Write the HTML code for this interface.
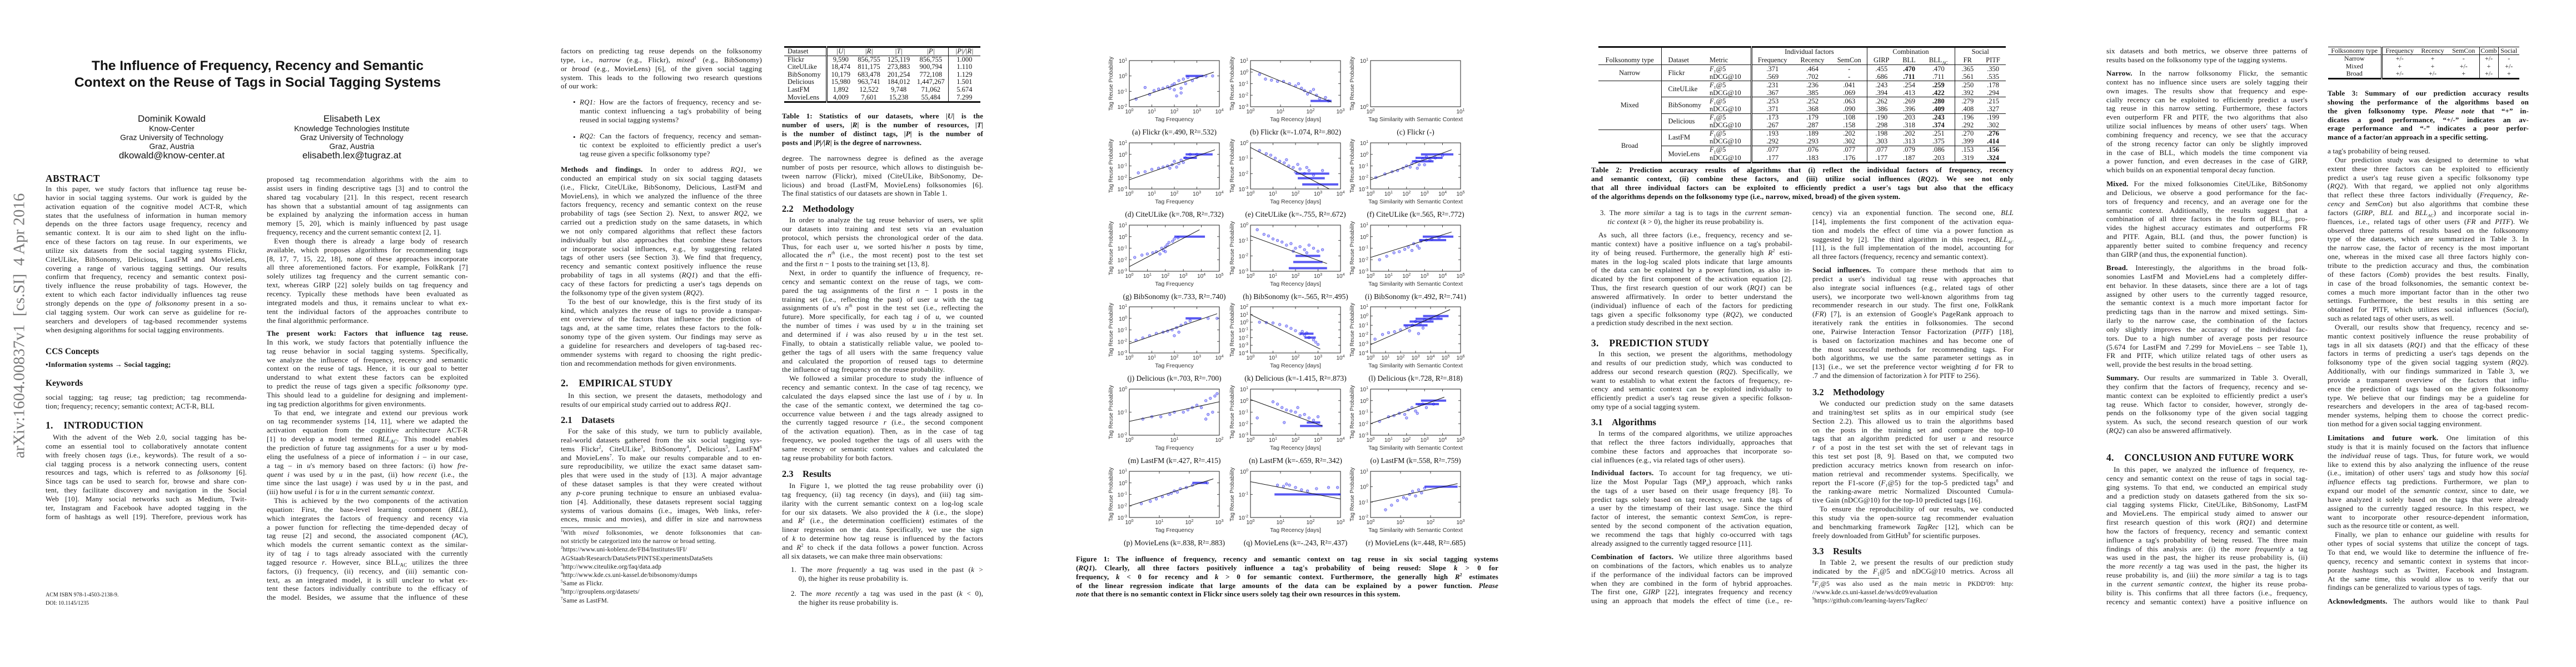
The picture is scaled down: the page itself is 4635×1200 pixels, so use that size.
<!DOCTYPE html>
<html><head><meta charset="utf-8"><title>Paper pages</title>
<style>
html,body{margin:0;padding:0;background:#fff}
body{width:4635px;height:1200px;position:relative;overflow:hidden;color:#141414}
sub,sup{line-height:0}
.pg{position:absolute;top:0;width:927px;height:1200px;background:#fff}
.b{position:absolute;width:362px;font:13px/15.85px "Liberation Serif",serif;letter-spacing:0.15px}
.b>div{height:15.85px;overflow:hidden;text-align:justify;text-align-last:justify;white-space:normal}
.b>div.e{text-align-last:left}
.b>div.i{text-indent:13px}
.b.fn{font-size:11.5px;line-height:15.2px}
.b.fn>div{height:15.2px}
.h1{position:absolute;font:bold 17.5px "Liberation Serif",serif;white-space:nowrap;letter-spacing:0.3px}
.h2{position:absolute;font:bold 16.5px "Liberation Serif",serif;white-space:nowrap}
.cap{font-weight:bold}
table{border-collapse:collapse;font:12.5px/13.6px "Liberation Serif",serif}
td,th{padding:0;font-weight:normal;white-space:nowrap}
#t2 tr{height:14.1px}
#t2 td{line-height:13px;height:14.1px;overflow:hidden}
#t2 tr.hd{height:15px}
#t2 tr.hd td{height:15px}
.sans{font-family:"Liberation Sans",sans-serif}
</style></head><body>

<!-- ================= PAGE 1 ================= -->
<div class="pg" style="left:0">
  <div style="position:absolute;left:35px;top:586px;transform:translate(-50%,-50%) rotate(-90deg);font:29px 'Liberation Serif',serif;color:#7a7a7a;white-space:nowrap">arXiv:1604.00837v1&nbsp; [cs.SI]&nbsp; 4 Apr 2016</div>
  <div class="sans" style="position:absolute;left:60px;width:807px;top:104px;text-align:center;font-weight:bold;font-size:24.5px;line-height:29.5px">The Influence of Frequency, Recency and Semantic<br>Context on the Reuse of Tags in Social Tagging Systems</div>
  <div class="sans" style="position:absolute;left:159px;width:300px;top:205px;text-align:center;font-size:14px;line-height:16px">
    <div style="font-size:17px;line-height:18px">Dominik Kowald</div><div>Know-Center</div><div>Graz University of Technology</div><div>Graz, Austria</div><div style="font-size:17px;line-height:17px">dkowald@know-center.at</div></div>
  <div class="sans" style="position:absolute;left:483px;width:300px;top:205px;text-align:center;font-size:14px;line-height:16px">
    <div style="font-size:17px;line-height:18px">Elisabeth Lex</div><div>Knowledge Technologies Institute</div><div>Graz University of Technology</div><div>Graz, Austria</div><div style="font-size:17px;line-height:17px">elisabeth.lex@tugraz.at</div></div>

  <div class="h1" style="left:82px;top:311px">ABSTRACT</div>
  <div class="b" style="left:82px;top:332px">
<div>In this paper, we study factors that influence tag reuse be-</div>
<div>havior in social tagging systems. Our work is guided by the</div>
<div>activation equation of the cognitive model ACT-R, which</div>
<div>states that the usefulness of information in human memory</div>
<div>depends on the three factors usage frequency, recency and</div>
<div>semantic context. It is our aim to shed light on the influ-</div>
<div>ence of these factors on tag reuse. In our experiments, we</div>
<div>utilize six datasets from the social tagging systems Flickr,</div>
<div>CiteULike, BibSonomy, Delicious, LastFM and MovieLens,</div>
<div>covering a range of various tagging settings. Our results</div>
<div>confirm that frequency, recency and semantic context posi-</div>
<div>tively influence the reuse probability of tags. However, the</div>
<div>extent to which each factor individually influences tag reuse</div>
<div>strongly depends on the <i>type of folksonomy</i> present in a so-</div>
<div>cial tagging system. Our work can serve as guideline for re-</div>
<div>searchers and developers of tag-based recommender systems</div>
<div class="e">when designing algorithms for social tagging environments.</div>
  </div>
  <div class="h2" style="left:82px;top:624px;font-size:15.5px">CCS Concepts</div>
  <div class="b" style="left:82px;top:648px"><div class="e"><b>•Information systems → Social tagging;</b></div></div>
  <div class="h2" style="left:82px;top:681px;font-size:15.5px">Keywords</div>
  <div class="b" style="left:82px;top:707px">
<div>social tagging; tag reuse; tag prediction; tag recommenda-</div>
<div class="e">tion; frequency; recency; semantic context; ACT-R, BLL</div></div>
  <div class="h1" style="left:82px;top:755px">1.&nbsp;&nbsp;&nbsp;&nbsp;INTRODUCTION</div>
  <div class="b" style="left:82px;top:779px">
<div class="i">With the advent of the Web 2.0, social tagging has be-</div>
<div>come an essential tool to collaboratively annotate content</div>
<div>with freely chosen <i>tags</i> (i.e., keywords). The result of a so-</div>
<div>cial tagging process is a network connecting users, content</div>
<div>resources and tags, which is referred to as <i>folksonomy</i> [6].</div>
<div>Since tags can be used to search for, browse and share con-</div>
<div>tent, they facilitate discovery and navigation in the Social</div>
<div>Web [10]. Many social networks such as Medium, Twit-</div>
<div>ter, Instagram and Facebook have adopted tagging in the</div>
<div>form of hashtags as well [19]. Therefore, previous work has</div></div>
  <div style="position:absolute;left:82px;top:1063px;font:10px/15px 'Liberation Serif',serif">ACM ISBN 978-1-4503-2138-9.<br>DOI: 10.1145/1235</div>

  <div class="b" style="left:480px;top:315px">
<div>proposed tag recommendation algorithms with the aim to</div>
<div>assist users in finding descriptive tags [3] and to control the</div>
<div>shared tag vocabulary [21]. In this respect, recent research</div>
<div>has shown that a substantial amount of tag assignments can</div>
<div>be explained by analyzing the information access in human</div>
<div>memory [5, 20], which is mainly influenced by past usage</div>
<div class="e">frequency, recency and the current semantic context [2, 1].</div>
<div class="i">Even though there is already a large body of research</div>
<div>available, which proposes algorithms for recommending tags</div>
<div>[8, 17, 7, 15, 22, 18], none of these approaches incorporate</div>
<div>all three aforementioned factors. For example, FolkRank [7]</div>
<div>solely utilizes tag frequency and the current semantic con-</div>
<div>text, whereas GIRP [22] solely builds on tag frequency and</div>
<div>recency. Typically these methods have been evaluated as</div>
<div>integrated models and thus, it remains unclear to what ex-</div>
<div>tent the individual factors of the approaches contribute to</div>
<div class="e">the final algorithmic performance.</div></div>
  <div class="b" style="left:480px;top:592px">
<div><b>The present work: Factors that influence tag reuse.</b></div>
<div>In this work, we study factors that potentially influence the</div>
<div>tag reuse behavior in social tagging systems. Specifically,</div>
<div>we analyze the influence of frequency, recency and semantic</div>
<div>context on the reuse of tags. Hence, it is our goal to better</div>
<div>understand to what extent these factors can be exploited</div>
<div>to predict the reuse of tags given a specific <i>folksonomy type</i>.</div>
<div>This should lead to a guideline for designing and implement-</div>
<div class="e">ing tag prediction algorithms for given environments.</div>
<div class="i">To that end, we integrate and extend our previous work</div>
<div>on tag recommender systems [14, 11], where we adapted the</div>
<div>activation equation from the cognitive architecture ACT-R</div>
<div>[1] to develop a model termed <i>BLL<sub style="font-size:9px">AC</sub></i>. This model enables</div>
<div>the prediction of future tag assignments for a user <i>u</i> by mod-</div>
<div>eling the usefulness of a piece of information <i>i</i> – in our case,</div>
<div>a tag – in <i>u</i>'s memory based on three factors: (i) how <i>fre-</i></div>
<div><i>quent</i> <i>i</i> was used by <i>u</i> in the past, (ii) how <i>recent</i> (i.e., the</div>
<div>time since the last usage) <i>i</i> was used by <i>u</i> in the past, and</div>
<div class="e">(iii) how useful <i>i</i> is for <i>u</i> in the current <i>semantic context</i>.</div>
<div class="i">This is achieved by the two components of the activation</div>
<div>equation: First, the base-level learning component (<i>BLL</i>),</div>
<div>which integrates the factors of frequency and recency via</div>
<div>a power function for reflecting the time-depended decay of</div>
<div>tag reuse [2] and second, the associated component (<i>AC</i>),</div>
<div>which models the current semantic context as the similar-</div>
<div>ity of tag <i>i</i> to tags already associated with the currently</div>
<div>tagged resource <i>r</i>. However, since BLL<sub style="font-size:9px">AC</sub> utilizes the three</div>
<div>factors, (i) frequency, (ii) recency, and (iii) semantic con-</div>
<div>text, as an integrated model, it is still unclear to what ex-</div>
<div>tent these factors individually contribute to the efficacy of</div>
<div>the model. Besides, we assume that the influence of these</div></div>
</div>

<!-- ================= PAGE 2 ================= -->
<div class="pg" style="left:927px">
  <div class="b" style="left:82px;top:84px">
<div>factors on predicting tag reuse depends on the folksonomy</div>
<div>type, i.e., <i>narrow</i> (e.g., Flickr), <i>mixed</i><sup style="font-size:8px">1</sup> (e.g., BibSonomy)</div>
<div>or <i>broad</i> (e.g., MovieLens) [6], of the given social tagging</div>
<div>system. This leads to the following two research questions</div>
<div class="e">of our work:</div></div>
  <div style="position:absolute;left:104px;top:176px;font:13px/15.85px 'Liberation Serif',serif">•<br><br><br><br>•</div>
  <div class="b" style="left:116px;top:176px;width:327px">
<div><i>RQ1:</i> How are the factors of frequency, recency and se-</div>
<div>mantic context influencing a tag's probability of being</div>
<div class="e">reused in social tagging systems?</div></div>
  <div class="b" style="left:116px;top:237px;width:327px">
<div><i>RQ2:</i> Can the factors of frequency, recency and seman-</div>
<div>tic context be exploited to efficiently predict a user's</div>
<div class="e">tag reuse given a specific folksonomy type?</div></div>
  <div class="b" style="left:82px;top:297px">
<div><b>Methods and findings.</b> In order to address <i>RQ1</i>, we</div>
<div>conducted an empirical study on six social tagging datasets</div>
<div>(i.e., Flickr, CiteULike, BibSonomy, Delicious, LastFM and</div>
<div>MovieLens), in which we analyzed the influence of the three</div>
<div>factors frequency, recency and semantic context on the reuse</div>
<div>probability of tags (see Section 2). Next, to answer <i>RQ2</i>, we</div>
<div>carried out a prediction study on the same datasets, in which</div>
<div>we not only compared algorithms that reflect these factors</div>
<div>individually but also approaches that combine these factors</div>
<div>or incorporate social influences, e.g., by suggesting related</div>
<div>tags of other users (see Section 3). We find that frequency,</div>
<div>recency and semantic context positively influence the reuse</div>
<div>probability of tags in all systems (<i>RQ1</i>) and that the effi-</div>
<div>cacy of these factors for predicting a user's tags depends on</div>
<div class="e">the folksonomy type of the given system (<i>RQ2</i>).</div>
<div class="i">To the best of our knowledge, this is the first study of its</div>
<div>kind, which analyzes the reuse of tags to provide a transpar-</div>
<div>ent overview of the factors that influence the prediction of</div>
<div>tags and, at the same time, relates these factors to the folk-</div>
<div>sonomy type of the given system. Our findings may serve as</div>
<div>a guideline for researchers and developers of tag-based rec-</div>
<div>ommender systems with regard to choosing the right predic-</div>
<div class="e">tion and recommendation methods for given environments.</div></div>
  <div class="h1" style="left:82px;top:679px">2.&nbsp;&nbsp;&nbsp;&nbsp;EMPIRICAL STUDY</div>
  <div class="b" style="left:82px;top:704px">
<div class="i">In this section, we present the datasets, methodology and</div>
<div class="e">results of our empirical study carried out to address <i>RQ1</i>.</div></div>
  <div class="h2" style="left:82px;top:746px">2.1&nbsp;&nbsp;&nbsp;&nbsp;Datasets</div>
  <div class="b" style="left:82px;top:768px">
<div class="i">For the sake of this study, we turn to publicly available,</div>
<div>real-world datasets gathered from the six social tagging sys-</div>
<div>tems Flickr<sup style="font-size:8px">2</sup>, CiteULike<sup style="font-size:8px">3</sup>, BibSonomy<sup style="font-size:8px">4</sup>, Delicious<sup style="font-size:8px">5</sup>, LastFM<sup style="font-size:8px">6</sup></div>
<div>and MovieLens<sup style="font-size:8px">7</sup>. To make our results comparable and to en-</div>
<div>sure reproducibility, we utilize the exact same dataset sam-</div>
<div>ples that were used in the study of [13]. A major advantage</div>
<div>of these dataset samples is that they were created without</div>
<div>any <i>p</i>-core pruning technique to ensure an unbiased evalua-</div>
<div>tion [4]. Additionally, these datasets represent social tagging</div>
<div>systems of various domains (i.e., images, Web links, refer-</div>
<div>ences, music and movies), and differ in size and narrowness</div></div>
  <div style="position:absolute;left:82px;top:949px;width:120px;border-top:1px solid #333"></div>
  <div class="b fn" style="left:82px;top:952px">
<div><sup style="font-size:7px">1</sup>With <i>mixed</i> folksonomies, we denote folksonomies that can-</div>
<div class="e">not strictly be categorized into the narrow or broad setting.</div>
<div class="e"><sup style="font-size:7px">2</sup>https://www.uni-koblenz.de/FB4/Institutes/IFI/</div>
<div class="e">AGStaab/Research/DataSets/PINTSExperimentsDataSets</div>
<div class="e"><sup style="font-size:7px">3</sup>http://www.citeulike.org/faq/data.adp</div>
<div class="e"><sup style="font-size:7px">4</sup>http://www.kde.cs.uni-kassel.de/bibsonomy/dumps</div>
<div class="e"><sup style="font-size:7px">5</sup>Same as Flickr.</div>
<div class="e"><sup style="font-size:7px">6</sup>http://grouplens.org/datasets/</div>
<div class="e"><sup style="font-size:7px">7</sup>Same as LastFM.</div></div>

  <table style="position:absolute;left:484px;top:83px;width:353px;border-top:3px solid #111;border-bottom:3px solid #111">
    <colgroup><col style="width:76px"><col style="width:50px"><col style="width:53px"><col style="width:54px"><col style="width:62px"><col style="width:58px"></colgroup>
    <tr style="border-bottom:1px solid #111;height:15px"><td style="padding-left:6px;border-right:3px double #111">Dataset</td><td align="center"><i>|U|</i></td><td align="center"><i>|R|</i></td><td align="center"><i>|T|</i></td><td align="center" style="border-right:1px solid #111"><i>|P|</i></td><td align="center"><i>|P|/|R|</i></td></tr>
    <tr><td style="padding-left:6px;border-right:3px double #111">Flickr</td><td align="center">9,590</td><td align="center">856,755</td><td align="center">125,119</td><td align="center" style="border-right:1px solid #111">856,755</td><td align="center">1.000</td></tr>
    <tr><td style="padding-left:6px;border-right:3px double #111">CiteULike</td><td align="center">18,474</td><td align="center">811,175</td><td align="center">273,883</td><td align="center" style="border-right:1px solid #111">900,794</td><td align="center">1.110</td></tr>
    <tr><td style="padding-left:6px;border-right:3px double #111">BibSonomy</td><td align="center">10,179</td><td align="center">683,478</td><td align="center">201,254</td><td align="center" style="border-right:1px solid #111">772,108</td><td align="center">1.129</td></tr>
    <tr><td style="padding-left:6px;border-right:3px double #111">Delicious</td><td align="center">15,980</td><td align="center">963,741</td><td align="center">184,012</td><td align="center" style="border-right:1px solid #111">1,447,267</td><td align="center">1.501</td></tr>
    <tr><td style="padding-left:6px;border-right:3px double #111">LastFM</td><td align="center">1,892</td><td align="center">12,522</td><td align="center">9,748</td><td align="center" style="border-right:1px solid #111">71,062</td><td align="center">5.674</td></tr>
    <tr><td style="padding-left:6px;border-right:3px double #111">MovieLens</td><td align="center">4,009</td><td align="center">7,601</td><td align="center">15,238</td><td align="center" style="border-right:1px solid #111">55,484</td><td align="center">7.299</td></tr>
  </table>
  <div class="b cap" style="left:480px;top:201px">
<div>Table 1: Statistics of our datasets, where <i>|U|</i> is the</div>
<div>number of users, <i>|R|</i> is the number of resources, <i>|T|</i></div>
<div>is the number of distinct tags, <i>|P|</i> is the number of</div>
<div class="e">posts and <i>|P|/|R|</i> is the degree of narrowness.</div></div>
  <div class="b" style="left:480px;top:277px">
<div>degree. The narrowness degree is defined as the average</div>
<div>number of posts per resource, which allows to distinguish be-</div>
<div>tween narrow (Flickr), mixed (CiteULike, BibSonomy, De-</div>
<div>licious) and broad (LastFM, MovieLens) folksonomies [6].</div>
<div class="e">The final statistics of our datasets are shown in Table 1.</div></div>
  <div class="h2" style="left:480px;top:366px">2.2&nbsp;&nbsp;&nbsp;&nbsp;Methodology</div>
  <div class="b" style="left:480px;top:388px">
<div class="i">In order to analyze the tag reuse behavior of users, we split</div>
<div>our datasets into training and test sets via an evaluation</div>
<div>protocol, which persists the chronological order of the data.</div>
<div>Thus, for each user <i>u</i>, we sorted his/her <i>n</i> posts by time,</div>
<div>allocated the <i>n<sup style="font-size:8px">th</sup></i> (i.e., the most recent) post to the test set</div>
<div class="e">and the first <i>n</i> − 1 posts to the training set [13, 8].</div>
<div class="i">Next, in order to quantify the influence of frequency, re-</div>
<div>cency and semantic context on the reuse of tags, we com-</div>
<div>pared the tag assignments of the first <i>n</i> − 1 posts in the</div>
<div>training set (i.e., reflecting the past) of user <i>u</i> with the tag</div>
<div>assignments of <i>u</i>'s <i>n<sup style="font-size:8px">th</sup></i> post in the test set (i.e., reflecting the</div>
<div>future). More specifically, for each tag <i>i</i> of <i>u</i>, we counted</div>
<div>the number of times <i>i</i> was used by <i>u</i> in the training set</div>
<div>and determined if <i>i</i> was also reused by <i>u</i> in the test set.</div>
<div>Finally, to obtain a statistically reliable value, we pooled to-</div>
<div>gether the tags of all users with the same frequency value</div>
<div>and calculated the proportion of reused tags to determine</div>
<div class="e">the influence of tag frequency on the reuse probability.</div>
<div class="i">We followed a similar procedure to study the influence of</div>
<div>recency and semantic context. In the case of tag recency, we</div>
<div>calculated the days elapsed since the last use of <i>i</i> by <i>u</i>. In</div>
<div>the case of the semantic context, we determined the tag co-</div>
<div>occurrence value between <i>i</i> and the tags already assigned to</div>
<div>the currently tagged resource <i>r</i> (i.e., the second component</div>
<div>of the activation equation). Then, as in the case of tag</div>
<div>frequency, we pooled together the tags of all users with the</div>
<div>same recency or semantic context values and calculated the</div>
<div class="e">tag reuse probability for both factors.</div></div>
  <div class="h2" style="left:480px;top:843px">2.3&nbsp;&nbsp;&nbsp;&nbsp;Results</div>
  <div class="b" style="left:480px;top:866px">
<div class="i">In Figure 1, we plotted the tag reuse probability over (i)</div>
<div>tag frequency, (ii) tag recency (in days), and (iii) tag sim-</div>
<div>ilarity with the current semantic context on a log-log scale</div>
<div>for our six datasets. We also provided the <i>k</i> (i.e., the slope)</div>
<div>and <i>R</i><sup style="font-size:8px">2</sup> (i.e., the determination coefficient) estimates of the</div>
<div>linear regression on the data. Specifically, we use the sign</div>
<div>of <i>k</i> to determine how tag reuse is influenced by the factors</div>
<div>and <i>R</i><sup style="font-size:8px">2</sup> to check if the data follows a power function. Across</div>
<div class="e">all six datasets, we can make three main observations:</div></div>
  <div class="b" style="left:496px;top:1017px;width:346px">
<div>1. The <i>more frequently</i> a tag was used in the past (<i>k</i> &gt;</div>
<div class="e">&nbsp;&nbsp;&nbsp;&nbsp;0), the higher its reuse probability is.</div></div>
  <div class="b" style="left:496px;top:1060px;width:346px">
<div>2. The <i>more recently</i> a tag was used in the past (<i>k</i> &lt; 0),</div>
<div class="e">&nbsp;&nbsp;&nbsp;&nbsp;the higher its reuse probability is.</div></div>
</div>

<!-- ================= PAGE 3 ================= -->
<div class="pg" style="left:1854px">
  <svg id="fig1" width="927" height="1000" style="position:absolute;left:0;top:0" xmlns="http://www.w3.org/2000/svg"></svg>
  <div class="b cap" style="left:82px;top:998px;width:760px">
<div>Figure 1: The influence of frequency, recency and semantic context on tag reuse in six social tagging systems</div>
<div>(<i>RQ1</i>). Clearly, all three factors positively influence a tag's probability of being reused: Slope <i>k</i> &gt; 0 for</div>
<div>frequency, <i>k</i> &lt; 0 for recency and <i>k</i> &gt; 0 for semantic context. Furthermore, the generally high <i>R</i><sup style="font-size:8px">2</sup> estimates</div>
<div>of the linear regression indicate that large amounts of the data can be explained by a power function. <i>Please</i></div>
<div class="e"><i>note</i> that there is no semantic context in Flickr since users solely tag their own resources in this system.</div></div>
</div>

<!-- ================= PAGE 4 ================= -->
<div class="pg" style="left:2781px">
  <table id="t2" style="position:absolute;left:95px;top:83px;width:733px;table-layout:fixed;border-top:3px solid #111;border-bottom:3px solid #111;font-size:12.5px;line-height:13px">
    <colgroup><col style="width:113px"><col style="width:87px"><col style="width:75px"><col style="width:75px"><col style="width:70px"><col style="width:63px"><col style="width:52px"><col style="width:48px"><col style="width:58px"><col style="width:46px"><col style="width:46px"></colgroup>
    <tr class="hd"><td></td><td style="border-left:1px solid #111"></td><td style="border-right:3px double #111"></td><td colspan="3" align="center" style="border-right:1px solid #111">Individual factors</td><td colspan="3" align="center" style="border-right:1px solid #111">Combination</td><td colspan="2" align="center">Social</td></tr>
    <tr class="hd" style="border-bottom:1px solid #111"><td align="center">Folksonomy type</td><td style="border-left:1px solid #111;padding-left:12px">Dataset</td><td style="border-right:3px double #111">Metric</td><td align="center">Frequency</td><td align="center">Recency</td><td align="center" style="border-right:1px solid #111">SemCon</td><td align="center">GIRP</td><td align="center">BLL</td><td align="center" style="border-right:1px solid #111">BLL<sub style="font-size:8px"><i>AC</i></sub></td><td align="center">FR</td><td align="center">PITF</td></tr>
    <tbody id="t2body"></tbody>
  </table>
  <div class="b cap" style="left:82px;top:298px;width:760px">
<div>Table 2: Prediction accuracy results of algorithms that (i) reflect the individual factors of frequency, recency</div>
<div>and semantic context, (ii) combine these factors, and (iii) utilize social influences (<i>RQ2</i>). We see not only</div>
<div>that all three individual factors can be exploited to efficiently predict a user's tags but also that the efficacy</div>
<div class="e">of the algorithms depends on the folksonomy type (i.e., narrow, mixed, broad) of the given system.</div></div>
  <div class="b" style="left:98px;top:375px;width:345px">
<div>3. The <i>more similar</i> a tag is to tags in the <i>current seman-</i></div>
<div class="e">&nbsp;&nbsp;&nbsp;&nbsp;<i>tic context</i> (<i>k</i> &gt; 0), the higher its reuse probability is.</div></div>
  <div class="b" style="left:82px;top:415px">
<div class="i">As such, all three factors (i.e., frequency, recency and se-</div>
<div>mantic context) have a positive influence on a tag's probabil-</div>
<div>ity of being reused. Furthermore, the generally high <i>R</i><sup style="font-size:8px">2</sup> esti-</div>
<div>mates in the log-log scaled plots indicate that large amounts</div>
<div>of the data can be explained by a power function, as also in-</div>
<div>dicated by the first component of the activation equation [2].</div>
<div>Thus, the first research question of our work (<i>RQ1</i>) can be</div>
<div>answered affirmatively. In order to better understand the</div>
<div>(individual) influence of each of the factors for predicting</div>
<div>tags given a specific folksonomy type (<i>RQ2</i>), we conducted</div>
<div class="e">a prediction study described in the next section.</div></div>
  <div class="h1" style="left:82px;top:607px">3.&nbsp;&nbsp;&nbsp;&nbsp;PREDICTION STUDY</div>
  <div class="b" style="left:82px;top:629px">
<div class="i">In this section, we present the algorithms, methodology</div>
<div>and results of our prediction study, which was conducted to</div>
<div>address our second research question (<i>RQ2</i>). Specifically, we</div>
<div>want to establish to what extent the factors of frequency, re-</div>
<div>cency and semantic context can be exploited individually to</div>
<div>efficiently predict a user's tag reuse given a specific folkson-</div>
<div class="e">omy type of a social tagging system.</div></div>
  <div class="h2" style="left:82px;top:750px">3.1&nbsp;&nbsp;&nbsp;&nbsp;Algorithms</div>
  <div class="b" style="left:82px;top:772px">
<div class="i">In terms of the compared algorithms, we utilize approaches</div>
<div>that reflect the three factors individually, approaches that</div>
<div>combine these factors and approaches that incorporate so-</div>
<div class="e">cial influences (e.g., via related tags of other users).</div></div>
  <div class="b" style="left:82px;top:843px">
<div><b>Individual factors.</b> To account for tag frequency, we uti-</div>
<div>lize the Most Popular Tags (MP<sub style="font-size:8px"><i>u</i></sub>) approach, which ranks</div>
<div>the tags of a user based on their usage frequency [8]. To</div>
<div>predict tags solely based on tag recency, we rank the tags of</div>
<div>a user by the timestamp of their last usage. Since the third</div>
<div>factor of interest, the semantic context <i>SemCon</i>, is repre-</div>
<div>sented by the second component of the activation equation,</div>
<div>we recommend the tags that highly co-occurred with tags</div>
<div class="e">already assigned to the currently tagged resource [11].</div></div>
  <div class="b" style="left:82px;top:994px">
<div><b>Combination of factors.</b> We utilize three algorithms based</div>
<div>on combinations of the factors, which enables us to analyze</div>
<div>if the performance of the individual factors can be improved</div>
<div>when they are combined in the form of hybrid approaches.</div>
<div>The first one, <i>GIRP</i> [22], integrates frequency and recency</div>
<div>using an approach that models the effect of time (i.e., re-</div></div>

  <div class="b" style="left:480px;top:375px">
<div>cency) via an exponential function. The second one, <i>BLL</i></div>
<div>[14], implements the first component of the activation equa-</div>
<div>tion and models the effect of time via a power function as</div>
<div>suggested by [2]. The third algorithm in this respect, <i>BLL<sub style="font-size:8px">AC</sub></i></div>
<div>[11], is the full implementation of the model, accounting for</div>
<div class="e">all three factors (frequency, recency and semantic context).</div></div>
  <div class="b" style="left:480px;top:478px">
<div><b>Social influences.</b> To compare these methods that aim to</div>
<div>predict a user's individual tag reuse with approaches that</div>
<div>also integrate social influences (e.g., related tags of other</div>
<div>users), we incorporate two well-known algorithms from tag</div>
<div>recommender research in our study. The first one, FolkRank</div>
<div>(<i>FR</i>) [7], is an extension of Google's PageRank approach to</div>
<div>iteratively rank the entities in folksonomies. The second</div>
<div>one, Pairwise Interaction Tensor Factorization (<i>PITF</i>) [18],</div>
<div>is based on factorization machines and has become one of</div>
<div>the most successful methods for recommending tags. For</div>
<div>both algorithms, we use the same parameter settings as in</div>
<div>[13] (i.e., we set the preference vector weighting <i>d</i> for FR to</div>
<div class="e">.7 and the dimension of factorization λ for PITF to 256).</div></div>
  <div class="h2" style="left:480px;top:696px">3.2&nbsp;&nbsp;&nbsp;&nbsp;Methodology</div>
  <div class="b" style="left:480px;top:718px">
<div class="i">We conducted our prediction study on the same datasets</div>
<div>and training/test set splits as in our empirical study (see</div>
<div>Section 2.2). This allowed us to train the algorithms based</div>
<div>on the posts in the training set and compare the top-10</div>
<div>tags that an algorithm predicted for user <i>u</i> and resource</div>
<div><i>r</i> of a post in the test set with the set of relevant tags in</div>
<div>this test set post [8, 9]. Based on that, we computed two</div>
<div>prediction accuracy metrics known from research on infor-</div>
<div>mation retrieval and recommender systems. Specifically, we</div>
<div>report the F1-score (<i>F</i><sub style="font-size:8px">1</sub>@5) for the top-5 predicted tags<sup style="font-size:8px">8</sup> and</div>
<div>the ranking-aware metric Normalized Discounted Cumula-</div>
<div class="e">tive Gain (nDCG@10) for the top-10 predicted tags [16].</div>
<div class="i">To ensure the reproducibility of our results, we conducted</div>
<div>this study via the open-source tag recommender evaluation</div>
<div>and benchmarking framework <i>TagRec</i> [12], which can be</div>
<div class="e">freely downloaded from GitHub<sup style="font-size:8px">9</sup> for scientific purposes.</div></div>
  <div class="h2" style="left:480px;top:982px">3.3&nbsp;&nbsp;&nbsp;&nbsp;Results</div>
  <div class="b" style="left:480px;top:1004px">
<div class="i">In Table 2, we present the results of our prediction study</div>
<div>indicated by the <i>F</i><sub style="font-size:8px">1</sub>@5 and nDCG@10 metrics. Across all</div></div>
  <div style="position:absolute;left:480px;top:1040px;width:120px;border-top:1px solid #333"></div>
  <div class="b fn" style="left:480px;top:1044px;line-height:14.5px">
<div><sup style="font-size:7px">8</sup><i>F</i><sub style="font-size:7px">1</sub>@5 was also used as the main metric in PKDD'09: http:</div>
<div class="e">//www.kde.cs.uni-kassel.de/ws/dc09/evaluation</div>
<div class="e"><sup style="font-size:7px">9</sup>https://github.com/learning-layers/TagRec/</div></div>
</div>

<!-- ================= PAGE 5 ================= -->
<div class="pg" style="left:3708px">
  <div class="b" style="left:82px;top:84px">
<div>six datasets and both metrics, we observe three patterns of</div>
<div class="e">results based on the folksonomy type of the tagging systems.</div></div>
  <div class="b" style="left:82px;top:124px">
<div><b>Narrow.</b> In the narrow folksonomy Flickr, the semantic</div>
<div>context has no influence since users are solely tagging their</div>
<div>own images. The results show that frequency and espe-</div>
<div>cially recency can be exploited to efficiently predict a user's</div>
<div>tag reuse in this narrow setting. Furthermore, these factors</div>
<div>even outperform FR and PITF, the two algorithms that also</div>
<div>utilize social influences by means of other users' tags. When</div>
<div>combining frequency and recency, we see that the accuracy</div>
<div>of the strong recency factor can only be slightly improved</div>
<div>in the case of BLL, which models the time component via</div>
<div>a power function, and even decreases in the case of GIRP,</div>
<div class="e">which builds on an exponential temporal decay function.</div></div>
  <div class="b" style="left:82px;top:323px">
<div><b>Mixed.</b> For the mixed folksonomies CiteULike, BibSonomy</div>
<div>and Delicious, we observe a good performance for the fac-</div>
<div>tors of frequency and recency, and an average one for the</div>
<div>semantic context. Additionally, the results suggest that a</div>
<div>combination of all three factors in the form of BLL<sub style="font-size:8px"><i>AC</i></sub> pro-</div>
<div>vides the highest accuracy estimates and outperforms FR</div>
<div>and PITF. Again, BLL (and thus, the power function) is</div>
<div>apparently better suited to combine frequency and recency</div>
<div class="e">than GIRP (and thus, the exponential function).</div></div>
  <div class="b" style="left:82px;top:474px">
<div><b>Broad.</b> Interestingly, the algorithms in the broad folk-</div>
<div>sonomies LastFM and MovieLens had a completely differ-</div>
<div>ent behavior. In these datasets, since there are a lot of tags</div>
<div>assigned by other users to the currently tagged resource,</div>
<div>the semantic context is a much more important factor for</div>
<div>predicting tags than in the narrow and mixed settings. Sim-</div>
<div>ilarly to the narrow case, the combination of the factors</div>
<div>only slightly improves the accuracy of the individual fac-</div>
<div>tors. Due to a high number of average posts per resource</div>
<div>(5.674 for LastFM and 7.299 for MovieLens – see Table 1),</div>
<div>FR and PITF, which utilize related tags of other users as</div>
<div class="e">well, provide the best results in the broad setting.</div></div>
  <div class="b" style="left:82px;top:672px">
<div><b>Summary.</b> Our results are summarized in Table 3. Overall,</div>
<div>they confirm that the factors of frequency, recency and se-</div>
<div>mantic context can be exploited to efficiently predict a user's</div>
<div>tag reuse. Which factor to consider, however, strongly de-</div>
<div>pends on the folksonomy type of the given social tagging</div>
<div>system. As such, the second research question of our work</div>
<div class="e">(<i>RQ2</i>) can also be answered affirmatively.</div></div>
  <div class="h1" style="left:82px;top:813px">4.&nbsp;&nbsp;&nbsp;&nbsp;CONCLUSION AND FUTURE WORK</div>
  <div class="b" style="left:82px;top:837px">
<div class="i">In this paper, we analyzed the influence of frequency, re-</div>
<div>cency and semantic context on the reuse of tags in social tag-</div>
<div>ging systems. To that end, we conducted an empirical study</div>
<div>and a prediction study on datasets gathered from the six so-</div>
<div>cial tagging systems Flickr, CiteULike, BibSonomy, LastFM</div>
<div>and MovieLens. The empirical study aimed to answer our</div>
<div>first research question of this work (<i>RQ1</i>) and determine</div>
<div>how the factors of frequency, recency and semantic context</div>
<div>influence a tag's probability of being reused. The three main</div>
<div>findings of this analysis are: (i) the <i>more frequently</i> a tag</div>
<div>was used in the past, the higher its reuse probability is, (ii)</div>
<div>the <i>more recently</i> a tag was used in the past, the higher its</div>
<div>reuse probability is, and (iii) the <i>more similar</i> a tag is to tags</div>
<div>in the <i>current semantic context</i>, the higher its reuse proba-</div>
<div>bility is. This confirms that all three factors (i.e., frequency,</div>
<div>recency and semantic context) have a positive influence on</div></div>

  <table style="position:absolute;left:481px;top:84px;width:344px;border-top:1px solid #111;border-bottom:3px solid #111;font-size:12px;line-height:13.4px">
    <colgroup><col style="width:96px"><col style="width:64px"><col style="width:56px"><col style="width:56px"><col style="width:34px"><col style="width:38px"></colgroup>
    <tr style="border-bottom:1px solid #111"><td align="center" style="border-right:3px double #111">Folksonomy type</td><td align="center">Frequency</td><td align="center">Recency</td><td align="center" style="border-right:1px solid #111">SemCon</td><td align="center" style="border-right:1px solid #111">Comb</td><td align="center">Social</td></tr>
    <tr><td align="center" style="border-right:3px double #111">Narrow</td><td align="center">+/-</td><td align="center">+</td><td align="center" style="border-right:1px solid #111">-</td><td align="center" style="border-right:1px solid #111">+/-</td><td align="center">-</td></tr>
    <tr><td align="center" style="border-right:3px double #111">Mixed</td><td align="center">+</td><td align="center">+</td><td align="center" style="border-right:1px solid #111">+/-</td><td align="center" style="border-right:1px solid #111">+</td><td align="center">+/-</td></tr>
    <tr><td align="center" style="border-right:3px double #111">Broad</td><td align="center">+/-</td><td align="center">+/-</td><td align="center" style="border-right:1px solid #111">+</td><td align="center" style="border-right:1px solid #111">+/-</td><td align="center">+</td></tr>
  </table>
  <div class="b cap" style="left:480px;top:160px">
<div>Table 3: Summary of our prediction accuracy results</div>
<div>showing the performance of the algorithms based on</div>
<div>the given folksonomy type. <i>Please note</i> that “+” in-</div>
<div>dicates a good performance, “+/-” indicates an av-</div>
<div>erage performance and “-” indicates a poor perfor-</div>
<div class="e">mance of a factor/an approach in a specific setting.</div></div>
  <div class="b" style="left:480px;top:264px">
<div class="e">a tag's probability of being reused.</div>
<div class="i">Our prediction study was designed to determine to what</div>
<div>extent these three factors can be exploited to efficiently</div>
<div>predict a user's tag reuse given a specific folksonomy type</div>
<div>(<i>RQ2</i>). With that regard, we applied not only algorithms</div>
<div>that reflect these three factors individually (<i>Frequency</i>, <i>Re-</i></div>
<div><i>cency</i> and <i>SemCon</i>) but also algorithms that combine these</div>
<div>factors (<i>GIRP</i>, <i>BLL</i> and <i>BLL<sub style="font-size:8px">AC</sub></i>) and incorporate social in-</div>
<div>fluences, i.e., related tags of other users (<i>FR</i> and <i>PITF</i>). We</div>
<div>observed three patterns of results based on the folksonomy</div>
<div>type of the datasets, which are summarized in Table 3. In</div>
<div>the narrow case, the factor of recency is the most important</div>
<div>one, whereas in the mixed case all three factors highly con-</div>
<div>tribute to the prediction accuracy and thus, the combination</div>
<div>of these factors (<i>Comb</i>) provides the best results. Finally,</div>
<div>in case of the broad folksonomies, the semantic context be-</div>
<div>comes a much more important factor than in the other two</div>
<div>settings. Furthermore, the best results in this setting are</div>
<div>obtained for PITF, which utilizes social influences (<i>Social</i>),</div>
<div class="e">such as related tags of other users, as well.</div>
<div class="i">Overall, our results show that frequency, recency and se-</div>
<div>mantic context positively influence the reuse probability of</div>
<div>tags in all six datasets (<i>RQ1</i>) and that the efficacy of these</div>
<div>factors in terms of predicting a user's tags depends on the</div>
<div>folksonomy type of the given social tagging system (<i>RQ2</i>).</div>
<div>Additionally, with our findings summarized in Table 3, we</div>
<div>provide a transparent overview of the factors that influ-</div>
<div>ence the prediction of tags based on the given folksonomy</div>
<div>type. We believe that our findings may be a guideline for</div>
<div>researchers and developers in the area of tag-based recom-</div>
<div>mender systems, helping them to choose the correct predic-</div>
<div class="e">tion method for a given social tagging environment.</div></div>
  <div class="b" style="left:480px;top:780px">
<div><b>Limitations and future work.</b> One limitation of this</div>
<div>study is that it is mainly focused on the factors that influence</div>
<div>the <i>individual</i> reuse of tags. Thus, for future work, we would</div>
<div>like to extend this by also analyzing the influence of the reuse</div>
<div>(i.e., imitation) of other users' tags and study how this <i>social</i></div>
<div><i>influence</i> effects tag predictions. Furthermore, we plan to</div>
<div>expand our model of the <i>semantic context</i>, since to date, we</div>
<div>have analyzed it solely based on the tags that were already</div>
<div>assigned to the currently tagged resource. In this respect, we</div>
<div>want to incorporate other resource-dependent information,</div>
<div class="e">such as the resource title or content, as well.</div>
<div class="i">Finally, we plan to enhance our guideline with results for</div>
<div>other types of social systems that utilize the concept of tags.</div>
<div>To that end, we would like to determine the influence of fre-</div>
<div>quency, recency and semantic context in systems that incor-</div>
<div>porate <i>hashtags</i> such as Twitter, Facebook and Instagram.</div>
<div>At the same time, this would allow us to verify that our</div>
<div class="e">findings can be generalized to various types of tags.</div></div>
  <div class="b" style="left:480px;top:1074px">
<div><b>Acknowledgments.</b> The authors would like to thank Paul</div></div>
</div>

<script>
// ---------- Table 2 data ----------
const t2Types = ["Narrow","Mixed","Broad"];
const t2TypeSpans = [2,6,4];
const t2Datasets = ["Flickr","CiteULike","BibSonomy","Delicious","LastFM","MovieLens"];
const t2Metrics = ["F1@5","nDCG@10"];
const t2Values = [
 [".371",".464","-",".455",".470",".470",".365",".350"],
 [".569",".702","-",".686",".711",".711",".561",".535"],
 [".231",".236",".041",".243",".254",".259",".250",".178"],
 [".367",".385",".069",".394",".413",".422",".392",".294"],
 [".253",".252",".063",".262",".269",".280",".279",".215"],
 [".371",".368",".090",".386",".396",".409",".408",".327"],
 [".173",".179",".108",".190",".203",".243",".196",".199"],
 [".267",".287",".158",".298",".318",".374",".292",".302"],
 [".193",".189",".202",".198",".202",".251",".270",".276"],
 [".292",".293",".302",".303",".313",".375",".399",".414"],
 [".077",".076",".077",".077",".079",".086",".153",".156"],
 [".177",".183",".176",".177",".187",".203",".319",".324"]
];
const t2Bold = [4,4,5,5,5,5,5,5,7,7,7,7];

(function(){
  const body = document.getElementById('t2body');
  let typeIdx = 0, typeRowStart = 0;
  t2Values.forEach((vals, r) => {
    const tr = document.createElement('tr');
    
    
    if (r % 2 === 0 && r > 0) tr.style.borderTop = '1px solid #111';
    if (r === typeRowStart) {
      const td = document.createElement('td');
      
      
      td.rowSpan = t2TypeSpans[typeIdx];
      td.align = 'center';
      td.style.height = 'auto';
      td.textContent = t2Types[typeIdx];
      tr.appendChild(td);
    }
    if (r % 2 === 0) {
      const td = document.createElement('td');
      
      
      td.rowSpan = 2;
      td.style.height = 'auto';
      td.textContent = t2Datasets[r/2];
      td.style.borderLeft = '1px solid #111';
      td.style.paddingLeft = '12px';
      tr.appendChild(td);
    }
    const mt = document.createElement('td');
    
    
    mt.style.borderRight = '3px double #111';
    mt.innerHTML = r % 2 === 0 ? '<i>F</i><sub style="font-size:8px">1</sub>@5' : 'nDCG@10';
    tr.appendChild(mt);
    vals.forEach((v, c) => {
      const td = document.createElement('td');
      
      
      td.align = 'center';
      td.textContent = v;
      if (c === 2 || c === 5) td.style.borderRight = '1px solid #111';
      if (t2Bold[r] === c) td.style.fontWeight = 'bold';
      tr.appendChild(td);
    });
    body.appendChild(tr);
    if (r === typeRowStart + t2TypeSpans[typeIdx] - 1) { typeRowStart = r + 1; typeIdx++; }
  });
})();

// ---------- Figure 1 data (log10 space) ----------
const plotCaptions = ["(a) Flickr (k=.490, R²=.532)","(b) Flickr (k=-1.074, R²=.802)","(c) Flickr (-)",
 "(d) CiteULike (k=.708, R²=.732)","(e) CiteULike (k=-.755, R²=.672)","(f) CiteULike (k=.565, R²=.772)",
 "(g) BibSonomy (k=.733, R²=.740)","(h) BibSonomy (k=-.565, R²=.495)","(i) BibSonomy (k=.492, R²=.741)",
 "(j) Delicious (k=.703, R²=.700)","(k) Delicious (k=-1.415, R²=.873)","(l) Delicious (k=.728, R²=.818)",
 "(m) LastFM (k=.427, R²=.415)","(n) LastFM (k=-.659, R²=.342)","(o) LastFM (k=.558, R²=.759)",
 "(p) MovieLens (k=.838, R²=.883)","(q) MovieLens (k=-.243, R²=.437)","(r) MovieLens (k=.448, R²=.685)"];
const xAxisLabels = ["Tag Frequency","Tag Recency [days]","Tag Similarity with Semantic Context"];
const xRanges = [[0,4],[0,3],[0,1],[0,4],[0,4],[0,5],[0,5],[0,4],[0,5],[0,4],[0,4],[0,6],[0,2],[0,4],[0,5],[0,3],[0,3],[0,3]];
const yRanges = [[-2,1],[-3,1],[0,1],[-3,1],[-3,0],[-3,1],[-3,1],[-3,0],[-3,1],[-3,1],[-4,2],[-4,1],[-2,0],[-3,1],[-3,1],[-3,1],[-2,0],[-2,1]];
const fitLines = [[0,-1.6,3.75,0.25],[0,0.3,2.7,-2.6],null,[0,-2.2,3.8,0.4],[0,-0.3,3.5,-3],[0,-2.2,4.5,0.4],
 [0,-2.6,3.9,0.6],[0,-0.7,3.4,-2.5],[0,-1.8,4.5,0.4],[0,-2.2,3.9,0.4],[0,1,3.1,-3.5],[0,-3.1,5.3,0.7],
 [0,-1.4,2,-0.55],[0,0.1,3.2,-2.2],[0,-2,4.1,0.3],[0,-2,2.8,0.35],[0,-0.45,3,-1.2],[0,-1,2.9,0.2]];
const scatterPoints = [
 [[0.3,-1.5],[0.7,-0.75],[0.9,-1.2],[1.1,-0.95],[1.3,-0.85],[1.5,-0.8],[1.7,-0.7],[1.9,-0.6],[2.0,-0.5],[2.1,-1.3],[2.2,-0.3],[2.3,-0.8],[2.4,-0.2],[2.5,-0.5],[2.6,-0.1],[2.8,-0.3],[3.0,-0.1],[3.4,0],[3.7,0],[2.0,-0.9],[2.3,-1.1],[1.8,-0.8]],
 [[0.3,-0.2],[0.5,-0.6],[0.7,-0.7],[0.9,-0.8],[1.1,-0.8],[1.3,-1.0],[1.5,-1.2],[1.7,-1.4],[1.8,-1.6],[1.9,-1.9],[2.0,-1.7],[2.2,-2.0],[2.3,-2.3],[2.5,-2.2],[2.6,-2.5],[1.6,-1.0],[2.1,-1.5]],
 [],
 [[0.4,-1.6],[0.7,-1.5],[1.0,-1.3],[1.3,-1.2],[1.5,-1.1],[1.7,-1.0],[1.9,-0.9],[2.0,-0.6],[2.1,-1.1],[2.3,-0.5],[2.5,-0.3],[2.7,0],[3.0,0],[1.8,-1.2],[2.2,-0.8],[2.4,-0.7]],
 [[0.4,-0.5],[0.7,-0.7],[0.9,-0.8],[1.1,-1.0],[1.3,-1.2],[1.5,-1.3],[1.7,-1.5],[1.9,-1.6],[2.0,-1.9],[2.2,-1.7],[2.4,-2.0],[2.6,-1.8],[2.8,-2.1],[3.2,-1.8],[1.6,-1.1],[2.1,-1.4],[2.5,-1.6]],
 [[0.3,-2.0],[0.8,-1.7],[1.2,-1.5],[1.5,-1.4],[1.8,-1.2],[2.0,-1.0],[2.3,-0.8],[2.5,-0.6],[2.7,-0.9],[2.9,-0.4],[3.1,-0.2],[3.3,-0.5],[3.6,-0.3],[4.0,-0.1],[2.6,-1.2],[3.0,-0.9],[2.2,-1.1]],
 [[0.3,-1.8],[0.7,-1.6],[1.0,-1.5],[1.3,-1.4],[1.5,-1.3],[1.7,-1.5],[1.9,-1.2],[2.0,-0.9],[2.1,-0.7],[2.2,-0.5],[2.4,-0.4],[2.5,-0.2],[2.7,-0.1],[1.8,-1.0],[2.0,-1.3]],
 [[0.3,-0.3],[0.6,-0.6],[0.8,-0.7],[1.0,-0.9],[1.2,-1.0],[1.4,-1.1],[1.6,-1.3],[1.8,-1.2],[2.0,-1.5],[2.2,-1.4],[2.4,-1.6],[2.6,-1.3],[2.8,-1.5],[3.0,-1.7],[3.2,-1.6],[1.9,-1.7],[2.5,-1.8]],
 [[0.5,-2.0],[0.9,-1.7],[1.3,-1.4],[1.6,-1.3],[1.9,-1.1],[2.1,-0.9],[2.4,-0.6],[2.6,-0.8],[2.8,-0.4],[3.1,-0.3],[3.4,-0.2],[3.8,-0.1],[2.3,-1.2],[2.7,-1.0]],
 [[0.3,-1.9],[0.6,-1.7],[0.9,-1.5],[1.2,-1.3],[1.5,-1.2],[1.7,-1.1],[1.9,-1.0],[2.0,-1.5],[2.1,-0.8],[2.3,-0.6],[2.5,-0.4],[2.7,-0.2],[3.5,0],[3.9,0],[2.2,-1.2]],
 [[0.4,0],[0.7,-0.05],[1.0,-0.1],[1.3,-0.3],[1.6,-0.5],[1.8,-0.8],[2.0,-1.1],[2.2,-1.5],[2.4,-1.7],[2.6,-2.0],[2.8,-2.3],[2.9,-2.6],[3.0,-2.9],[2.3,-1.2],[2.5,-1.4]],
 [[0.3,-2.5],[0.8,-2.0],[1.2,-1.8],[1.6,-1.7],[2.0,-1.5],[2.4,-1.2],[2.8,-1.0],[3.0,-0.6],[3.3,-0.8],[3.6,-0.4],[4.0,-0.3],[4.5,-0.1],[3.2,-1.9],[2.6,-1.6],[3.5,-1.3]],
 [[0.3,-1.3],[0.5,-1.2],[0.7,-1.2],[0.9,-1.1],[1.0,-1.0],[1.2,-1.0],[1.3,-0.9],[1.4,-0.8],[1.5,-0.7],[1.6,-0.8],[1.7,-0.5],[1.75,-1.1],[1.8,-0.4],[1.85,-1.0],[1.9,-0.3],[1.95,-0.2],[1.7,-1.3]],
 [[0.3,-1.5],[1.0,-0.1],[1.2,-0.3],[1.4,-0.6],[1.6,-0.8],[1.8,-0.9],[2.0,-1.0],[2.2,-1.3],[2.4,-1.2],[2.6,-1.5],[2.8,-1.7],[3.0,-1.4],[1.5,-1.9],[2.1,-0.6]],
 [[0.5,-1.8],[1.0,-1.4],[1.3,-1.3],[1.6,-1.1],[1.9,-1.2],[2.1,-0.8],[2.3,-0.6],[2.5,-0.9],[2.7,-0.4],[2.9,-0.3],[3.1,-0.6],[3.5,-0.3],[2.0,-1.5],[2.6,-1.1]],
 [[0.4,-1.8],[0.7,-1.6],[0.9,-1.4],[1.1,-1.2],[1.3,-1.0],[1.4,-0.9],[1.5,-0.7],[1.6,-0.8],[1.7,-0.5],[1.9,-0.4],[2.1,-0.2],[2.6,0]],
 [[0.9,-0.6],[1.1,-0.65],[1.3,-0.6],[1.5,-0.7],[1.7,-0.8],[1.9,-0.85],[2.2,-0.75],[2.6,-0.7],[2.9,-0.7],[1.2,-0.55]],
 [[0.5,-1.5],[0.7,-1.2],[0.9,-0.9],[1.1,-0.7],[1.3,-0.5],[1.4,-0.3],[1.5,-0.6],[1.6,-0.2],[1.7,-0.4],[1.8,-0.1],[1.2,-0.8]]
];
const denseBands = [
 [[0,2.5,3.3]],[[-2.5,2.0,2.7]],[],[[0,2.5,3.7],[-0.3,2.4,3.0]],
 [[-2.0,2.0,3.5],[-2.3,2.1,3.3],[-2.7,2.3,3.9]],[[0,2.8,4.6],[-0.3,2.5,4.0],[-0.6,2.3,3.5]],
 [[0,2.5,4.2]],[[-2.0,2.0,3.1],[-2.4,1.9,3.2],[-2.8,1.7,3.4]],[[0,2.9,4.6],[-0.3,2.7,4.2]],
 [[0,2.5,3.2]],[[-1.5,2.2,2.8],[-2.0,2.4,2.9]],[[0,3.5,5.2],[-0.3,3.0,4.8],[-0.6,2.6,4.2],[-1.0,2.2,3.8]],
 [],[[-2.2,2.2,3.2],[-1.9,2.5,3.1]],[[0,2.8,4.2],[-0.3,2.5,3.8]],
 [[0,2.1,2.6]],[[-1,0.8,3.0]],[[0,1.8,2.9]]
];

(function(){
  const NS = 'http://www.w3.org/2000/svg';
  const svg = document.getElementById('fig1');
  const colX = [178,396,612], rowY = [109,257,405,552,700,848], PW = 162, PH = 83;
  function mk(tag, attrs, parent){ const e = document.createElementNS(NS, tag); for (const k in attrs) e.setAttribute(k, attrs[k]); (parent||svg).appendChild(e); return e; }
  function pow10(parent, x, y, exp, anchor){
    const t = mk('text', {x:x, y:y, 'font-family':'Liberation Sans, sans-serif', 'font-size':'10', fill:'#333', 'text-anchor':anchor}, parent);
    
    
    t.appendChild(document.createTextNode('10'));
    const s = document.createElementNS(NS, 'tspan'); s.setAttribute('dy','-4'); s.setAttribute('font-size','7'); s.textContent = String(exp); t.appendChild(s);
    return t;
  }
  plotCaptions.forEach((cap, p) => {
    const col = p % 3, row = Math.floor(p / 3);
    const L = colX[col], T = rowY[row];
    const xr = xRanges[p], yr = yRanges[p];
    const sx = v => L + (v - xr[0]) / (xr[1] - xr[0]) * PW;
    const sy = v => T + PH - (v - yr[0]) / (yr[1] - yr[0]) * PH;
    const g = mk('g', {});
    
    
    const cp = mk('clipPath', {id:'clip'+p}, g);
    mk('rect', {x:L, y:T, width:PW, height:PH}, cp);
    const frame = mk('rect', {x:L, y:T, width:PW, height:PH, fill:'none', stroke:'#222', 'stroke-width':'1'}, g);
    
    
    for (let d = xr[0]; d <= xr[1]; d++) {
      mk('line', {x1:sx(d), x2:sx(d), y1:T+PH, y2:T+PH-4, stroke:'#222', 'stroke-width':'0.8'}, g);
      mk('line', {x1:sx(d), x2:sx(d), y1:T, y2:T+4, stroke:'#222', 'stroke-width':'0.8'}, g);
      pow10(g, sx(d), T + PH + 12, d, 'middle');
    }
    for (let d = yr[0]; d <= yr[1]; d++) {
      mk('line', {x1:L, x2:L+4, y1:sy(d), y2:sy(d), stroke:'#222', 'stroke-width':'0.8'}, g);
      mk('line', {x1:L+PW, x2:L+PW-4, y1:sy(d), y2:sy(d), stroke:'#222', 'stroke-width':'0.8'}, g);
      pow10(g, L - 4, sy(d) + 4, d, 'end');
    }
    const pg = mk('g', {'clip-path':'url(#clip'+p+')'}, g);
    denseBands[p].forEach(b => {
      const band = mk('line', {x1:sx(b[1]), x2:sx(b[2]), y1:sy(b[0]), y2:sy(b[0]), stroke:'#2020ee', 'stroke-width':'4', 'stroke-opacity':'0.75'}, pg);
      
      
    });
    scatterPoints[p].forEach(pt => {
      const c = mk('circle', {cx:sx(pt[0]), cy:sy(pt[1]), r:'2.3', fill:'#3a3aff', 'fill-opacity':'0.35', stroke:'#1010dd', 'stroke-width':'0.7', 'stroke-opacity':'0.7'}, pg);
      
      
    });
    const fl = fitLines[p];
    if (fl) {
      const ln = mk('line', {x1:sx(fl[0]), y1:sy(fl[1]), x2:sx(fl[2]), y2:sy(fl[3]), stroke:'#111', 'stroke-width':'1'}, pg);
      
      
    }
    const yl = mk('text', {x:0, y:0, transform:'translate('+(L-30)+','+(T+PH/2)+') rotate(-90)', 'text-anchor':'middle', 'font-family':'Liberation Sans, sans-serif', 'font-size':'10', fill:'#333'}, g);
    
    
    yl.textContent = 'Tag Reuse Probability';
    const xl = mk('text', {x:L+PW/2, y:T+PH+26, 'text-anchor':'middle', 'font-family':'Liberation Sans, sans-serif', 'font-size':'10.5', fill:'#333'}, g);
    
    
    xl.textContent = xAxisLabels[col];
    const ct = mk('text', {x:L+PW/2, y:T+133, 'text-anchor':'middle', 'font-family':'Liberation Serif, serif', 'font-size':'13.5', fill:'#111'}, g);
    
    
    ct.textContent = cap;
  });
})();

document.querySelectorAll('.b > div').forEach(function(el){
  
  
});
</script>
</body></html>
